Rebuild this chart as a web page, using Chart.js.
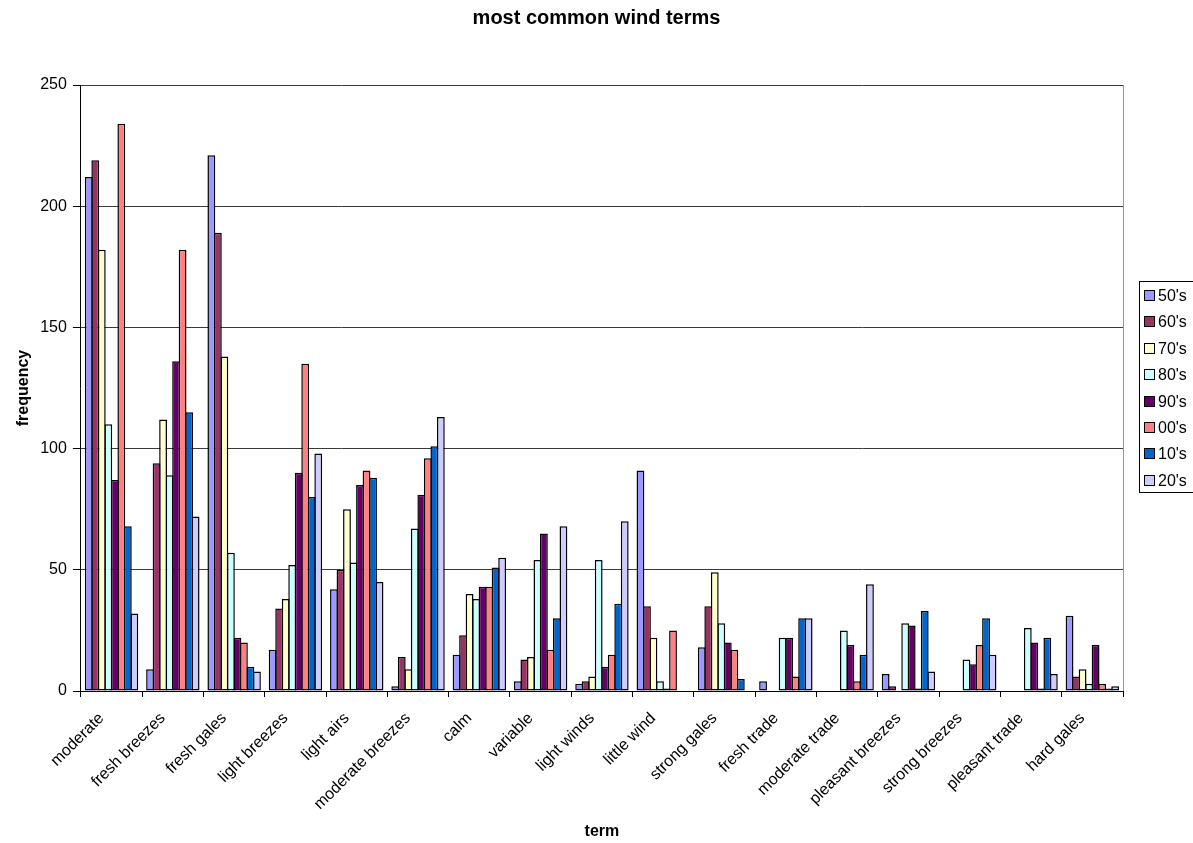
<!DOCTYPE html>
<html>
<head>
<meta charset="utf-8">
<script src="https://cdn.jsdelivr.net/npm/chart.js@4.4.0/dist/chart.umd.min.js"></script>
<style>
  html, body { margin: 0; padding: 0; background: #fff; }
  #wrap { width: 1193px; height: 843px; }
</style>
</head>
<body>
<div id="wrap"><canvas id="myChart" width="1193" height="843"></canvas></div>
<script>
var terms = ["moderate", "fresh breezes", "fresh gales", "light breezes", "light airs",
  "moderate breezes", "calm", "variable", "light winds", "little wind", "strong gales",
  "fresh trade", "moderate trade", "pleasant breezes", "strong breezes", "pleasant trade", "hard gales"];

var decades = ["50's", "60's", "70's", "80's", "90's", "00's", "10's", "20's"];
var barColors = ["#9999FF", "#993366", "#FFFFCC", "#CCFFFF", "#660066", "#FF8080", "#0066CC", "#CCCCFF"];

var v50s = [212, 9, 221, 17, 42, 2, 15, 4, 3, 91, 18, 4, 0, 7, 0, 0, 31];
var v60s = [219, 94, 189, 34, 50, 14, 23, 13, 4, 35, 35, 0, 0, 2, 0, 0, 6];
var v70s = [182, 112, 138, 38, 75, 9, 40, 14, 6, 22, 49, 0, 0, 0, 0, 0, 9];
var v80s = [110, 89, 57, 52, 53, 67, 38, 54, 54, 4, 28, 22, 25, 28, 13, 26, 3];
var v90s = [87, 136, 22, 90, 85, 81, 43, 65, 10, 1, 20, 22, 19, 27, 11, 20, 19];
var v00s = [234, 182, 20, 135, 91, 96, 43, 17, 15, 25, 17, 6, 4, 1, 19, 1, 3];
var v10s = [68, 115, 10, 80, 88, 101, 51, 30, 36, 0, 5, 30, 15, 33, 30, 22, 1];
var v20s = [32, 72, 8, 98, 45, 113, 55, 68, 70, 0, 0, 30, 44, 8, 15, 7, 2];

var yTicks = [0, 50, 100, 150, 200, 250];

var series = [v50s, v60s, v70s, v80s, v90s, v00s, v10s, v20s];

Chart.defaults.font.family = '"Liberation Sans", Arial, sans-serif';
Chart.defaults.color = "#000";

// right edge of the plot area (grey frame line)
var plotFrame = {
  id: "plotFrame",
  beforeDatasetsDraw: function (chart) {
    var a = chart.chartArea, ctx = chart.ctx;
    ctx.save();
    ctx.strokeStyle = "#999";
    ctx.lineWidth = 1;
    ctx.beginPath();
    ctx.moveTo(Math.round(a.right) + 0.5, a.top);
    ctx.lineTo(Math.round(a.right) + 0.5, a.bottom);
    ctx.stroke();
    ctx.restore();
  }
};

// boxed legend on the right, like the excel one
var boxLegend = {
  id: "boxLegend",
  afterDraw: function (chart) {
    var ctx = chart.ctx;
    ctx.save();
    ctx.strokeStyle = "#000";
    ctx.lineWidth = 1;
    ctx.strokeRect(1139.5, 281.5, 60, 211);
    ctx.font = '16px "Liberation Sans", Arial, sans-serif';
    ctx.textBaseline = "middle";
    chart.data.datasets.forEach(function (ds, i) {
      var y = Math.round(296 + i * 26.4);
      ctx.fillStyle = ds.backgroundColor;
      ctx.fillRect(1144.5, y - 5.5, 10, 10);
      ctx.strokeRect(1144.5, y - 5.5, 10, 10);
      ctx.fillStyle = "#000";
      ctx.fillText(ds.label, 1158, y + 1);
    });
    ctx.restore();
  }
};

new Chart("myChart", {
  type: "bar",
  data: {
    labels: terms,
    datasets: decades.map(function (d, i) {
      return {
        label: d,
        data: series[i],
        backgroundColor: barColors[i],
        borderColor: "#000",
        borderWidth: 1.5,
        borderSkipped: false,
        categoryPercentage: 0.85,
        barPercentage: 1.2
      };
    })
  },
  options: {
    responsive: false,
    animation: false,
    layout: { padding: 0 },
    plugins: {
      legend: { display: false },
      tooltip: { enabled: false },
      title: {
        display: true,
        text: "most common wind terms",
        font: { size: 20, weight: "bold" },
        padding: { top: 6, bottom: 55 }
      }
    },
    scales: {
      x: {
        grid: { offset: true, drawOnChartArea: false, tickLength: 6, color: "#000" },
        border: { color: "#000" },
        ticks: { autoSkip: false, maxRotation: 45, minRotation: 45, font: { size: 16 }, padding: 12, labelOffset: -10 },
        title: { display: true, text: "term", font: { size: 16, weight: "bold" }, padding: { top: 1, bottom: 2 } },
        afterFit: function (scale) { scale.height = 152; }
      },
      y: {
        min: 0,
        max: 250,
        afterBuildTicks: function (axis) {
          axis.ticks = yTicks.map(function (v) { return { value: v }; });
        },
        grid: { color: "#3a3a3a", tickColor: "#000", tickLength: 8 },
        border: { color: "#000" },
        ticks: { font: { size: 16 }, padding: 6 },
        title: { display: true, text: "frequency", font: { size: 16, weight: "bold" }, padding: { top: 14, bottom: 1 } }
      },
      // empty strip on the right that keeps room for the legend box
      legendRoom: {
        type: "linear",
        position: "right",
        grid: { display: false },
        border: { display: false },
        ticks: { display: false },
        afterFit: function (scale) { scale.width = 70; }
      }
    }
  },
  plugins: [plotFrame, boxLegend]
});
</script>
</body>
</html>
